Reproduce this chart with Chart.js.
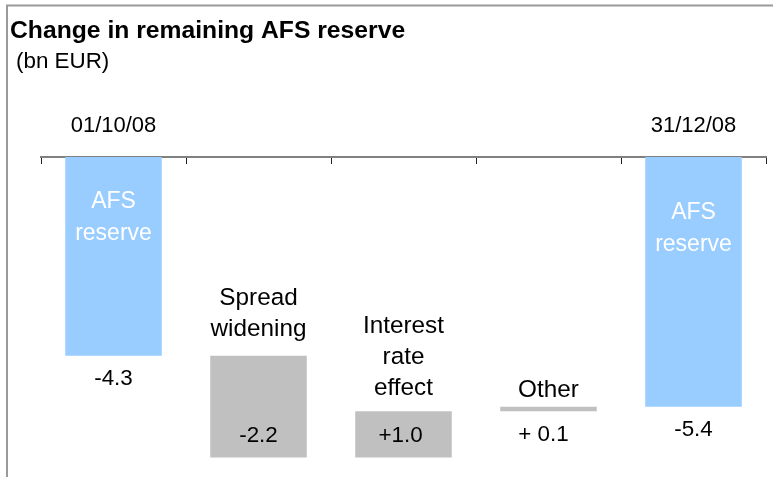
<!DOCTYPE html>
<html>
<head>
<meta charset="utf-8">
<script src="https://cdn.jsdelivr.net/npm/chart.js@4/dist/chart.umd.min.js"></script>
<style>
  html, body { margin: 0; padding: 0; background: #ffffff; }
  #wrap { position: relative; width: 773px; height: 477px; }
</style>
</head>
<body>
<div id="wrap"><canvas id="c"></canvas></div>
<script>
// ---- data ----
const tickLabels = ['01/10/08', '', '', '', '31/12/08'];
const barNames = [['AFS', 'reserve'], ['Spread', 'widening'], ['Interest', 'rate', 'effect'], ['Other'], ['AFS', 'reserve']];
const barStart = [0, -4.3, -6.5, -5.5, 0];
const barEnd = [-4.3, -6.5, -5.5, -5.4, -5.4];
const valueLabels = ['-4.3', '-2.2', '+1.0', '+ 0.1', '-5.4'];
const barKinds = ['total', 'change', 'change', 'change', 'total'];

const titleText = 'Change in remaining AFS reserve';
const subtitleText = '(bn EUR)';

// ---- styles ----
const FONT = '"Liberation Sans", Arial, Helvetica, sans-serif';
const BLUE = '#99CCFF';
const GREY = '#C0C0C0';

const floatData = barStart.map((s, i) => [s, barEnd[i]]);

const annot = {
  id: 'annot',
  beforeDraw(chart) {
    const ctx = chart.ctx;
    ctx.save();
    // frame (top and left)
    ctx.strokeStyle = '#9a9a9a';
    ctx.lineWidth = 2;
    ctx.beginPath();
    ctx.moveTo(7, chart.height);
    ctx.lineTo(7, 5.5);
    ctx.lineTo(chart.width, 5.5);
    ctx.stroke();
    // title
    ctx.fillStyle = '#000';
    ctx.textBaseline = 'alphabetic';
    ctx.textAlign = 'left';
    ctx.font = 'bold 24.7px ' + FONT;
    ctx.fillText(titleText, 10, 38);
    ctx.font = '22.4px ' + FONT;
    ctx.fillText(subtitleText, 16, 68);
    ctx.restore();
  },
  afterDatasetsDraw(chart) {
    const ctx = chart.ctx;
    const meta = chart.getDatasetMeta(0);
    ctx.save();
    ctx.textAlign = 'center';
    ctx.textBaseline = 'alphabetic';
    meta.data.forEach((el, i) => {
      const top = Math.min(el.y, el.base);
      const bottom = Math.max(el.y, el.base);
      const x = el.x;
      if (barKinds[i] === 'total') {
        // name inside in white
        ctx.fillStyle = '#ffffff';
        ctx.font = '23px ' + FONT;
        const off = (i === 0) ? 51 : 62;
        barNames[i].forEach((t, k) => ctx.fillText(t, x, top + off + k * 31.5));
        // value below
        ctx.fillStyle = '#000';
        ctx.font = '22.4px ' + FONT;
        ctx.fillText(valueLabels[i], x, bottom + 29.5);
      } else {
        ctx.fillStyle = '#000';
        ctx.font = '24.3px ' + FONT;
        const gap = (i === 1) ? 20 : (i === 2 ? 16 : 10);
        const n = barNames[i].length;
        barNames[i].forEach((t, k) => ctx.fillText(t, x, top - gap - (n - 1 - k) * 31));
        ctx.font = '22.4px ' + FONT;
        if (bottom - top > 30) {
          ctx.fillText(valueLabels[i], x - (i === 2 ? 3 : 0), bottom - 16);
        } else {
          ctx.fillText(valueLabels[i], x - 5, bottom + 30);
        }
      }
    });
    ctx.restore();
  }
};

new Chart(document.getElementById('c'), {
  type: 'bar',
  data: {
    labels: tickLabels,
    datasets: [{
      data: floatData,
      backgroundColor: barKinds.map(k => k === 'total' ? BLUE : GREY),
      borderWidth: 0,
      categoryPercentage: 1.0,
      barPercentage: 0.666
    }]
  },
  options: {
    responsive: true,
    maintainAspectRatio: false,
    animation: false,
    devicePixelRatio: 1,
    layout: { padding: { left: 41, right: 7, top: 0, bottom: 0 } },
    plugins: {
      legend: { display: false },
      tooltip: { enabled: false },
      title: { display: false }
    },
    scales: {
      x: {
        position: 'top',
        offset: true,
        afterFit: (s) => { s.height = 157; },
        grid: {
          offset: true,
          drawOnChartArea: false,
          drawTicks: true,
          tickLength: -7,
          color: '#222',
          lineWidth: 1
        },
        border: { display: true, color: '#808080', width: 2 },
        ticks: {
          color: '#000',
          font: { family: FONT, size: 22 },
          padding: 25,
          maxRotation: 0,
          autoSkip: false
        }
      },
      y: {
        display: false,
        min: -6.92,
        max: 0
      }
    }
  },
  plugins: [annot]
});
</script>
</body>
</html>
